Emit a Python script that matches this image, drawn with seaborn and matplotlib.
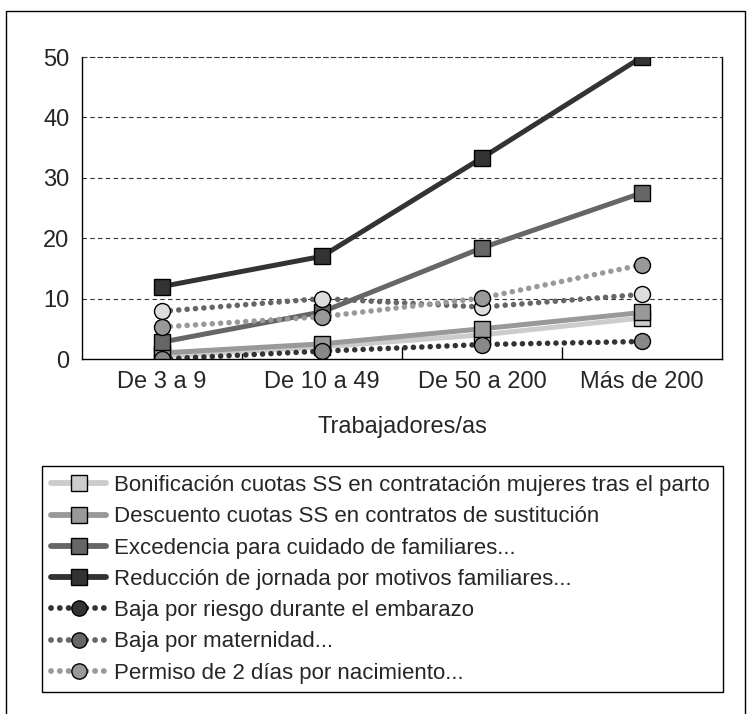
import matplotlib
matplotlib.use("Agg")
import matplotlib.pyplot as plt
from matplotlib.lines import Line2D
from matplotlib.patches import Rectangle
import pandas as pd
import seaborn as sns

categorias = ['De 3 a 9', 'De 10 a 49', 'De 50 a 200', 'Más de 200']

bonificacion = [0.5, 2.0, 4.0, 6.8]
descuento = [1.0, 2.5, 5.0, 7.7]
excedencia = [2.8, 7.8, 18.4, 27.5]
reduccion = [12.0, 17.0, 33.3, 50.0]
baja_riesgo = [0.0, 1.3, 2.4, 2.9]
baja_maternidad = [7.9, 10.0, 8.6, 10.7]
permiso = [5.3, 7.0, 10.1, 15.6]

etiquetas = [
    'Bonificación cuotas SS en contratación mujeres tras el parto',
    'Descuento cuotas SS en contratos de sustitución',
    'Excedencia para cuidado de familiares...',
    'Reducción de jornada por motivos familiares...',
    'Baja por riesgo durante el embarazo',
    'Baja por maternidad...',
    'Permiso de 2 días por nacimiento...',
]

sns.set_style("white")
plt.rcParams['font.family'] = ['Liberation Sans', 'DejaVu Sans']

fig = plt.figure(figsize=(7.47, 7.14), dpi=100)
ax = fig.add_axes([82 / 747, 1 - 359 / 714, 640 / 747, 302 / 714])

# (values, line color, marker, marker face in plot, marker face in legend, dotted)
series = [
    (bonificacion, '#cccccc', 's', '#cccccc', '#cccccc', False),
    (descuento, '#999999', 's', '#999999', '#999999', False),
    (excedencia, '#666666', 's', '#666666', '#666666', False),
    (reduccion, '#333333', 's', '#333333', '#333333', False),
    (baja_riesgo, '#333333', 'o', '#888888', '#333333', True),
    (baja_maternidad, '#666666', 'o', '#dddddd', '#666666', True),
    (permiso, '#999999', 'o', '#999999', '#999999', True),
]

handles = []
for (vals, col, mk, face, legface, dotted), lab in zip(series, etiquetas):
    df = pd.DataFrame({'cat': categorias, 'val': vals})
    ls = (0, (0.01, 1.5)) if dotted else '-'
    lw = 4.0 if dotted else 3.6
    sns.lineplot(data=df, x='cat', y='val', ax=ax, color=col, linewidth=lw,
                 linestyle=ls, marker=mk, markersize=12 if mk == 's' else 11.5,
                 markerfacecolor=face, markeredgecolor='black',
                 markeredgewidth=1.0, dash_capstyle='round', sort=False)
    handles.append(Line2D([0], [0], color=col, linewidth=4.2, linestyle=ls,
                          marker=mk, markersize=11, markerfacecolor=legface,
                          markeredgecolor='black', markeredgewidth=1.0,
                          dash_capstyle='round', solid_capstyle='round',
                          label=lab))

ax.set_xlim(-0.5, 3.5)
ax.set_ylim(0, 50)
ax.set_yticks([0, 10, 20, 30, 40, 50])
ax.set_xticks(range(4))
ax.set_xticklabels(categorias)
ax.set_xticks([0.5, 1.5, 2.5], minor=True)
ax.tick_params(axis='both', which='major', length=0, labelsize=17, pad=9)
ax.tick_params(axis='x', which='minor', direction='in', length=9, width=1,
               color='black', bottom=True)
for y in [10, 20, 30, 40]:
    ax.axhline(y, color='#333333', linestyle=(0, (4, 3)), linewidth=0.8, zorder=0)
for side in ['left', 'right', 'bottom']:
    ax.spines[side].set_color('black')
    ax.spines[side].set_linewidth(1.0)
ax.spines['top'].set_color('#333333')
ax.spines['top'].set_linestyle((0, (4, 3)))
ax.spines['top'].set_linewidth(0.8)
ax.set_xlabel('Trabajadores/as', fontsize=17, labelpad=16)
ax.set_ylabel('')

fig.legend(handles=handles, loc='upper left',
           bbox_to_anchor=(42 / 747, 1 - 467 / 714, 681 / 747, 0.001),
           mode='expand', frameon=True, fancybox=False, edgecolor='black',
           framealpha=1, fontsize=16, handlelength=2.5, labelspacing=0.46,
           borderaxespad=0, borderpad=0.4, handletextpad=0.35)

fig.add_artist(Rectangle((6 / 747, -0.02), 739 / 747, 1.02 - 11 / 714,
                         transform=fig.transFigure, fill=False,
                         edgecolor='black', linewidth=1.0))

fig.savefig('out.png', dpi=100)
